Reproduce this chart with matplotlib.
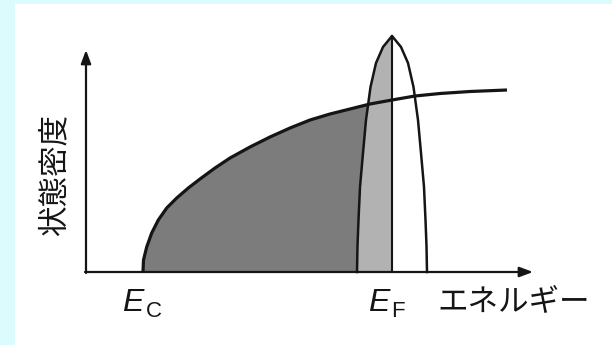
import numpy as np
import matplotlib
matplotlib.use("Agg")
import matplotlib.pyplot as plt
from matplotlib.patches import Rectangle

############################################
#                  DATA                    #
############################################

# energy / density of states in arbitrary units (band edge at 0)
E_c = 0.0
E_f = 2.49

dos_E = np.array([0.0, 0.005, 0.037, 0.087, 0.153, 0.237, 0.337, 0.453, 0.57, 0.72,
                  0.87, 1.07, 1.27, 1.47, 1.67, 1.87, 2.07, 2.27, 2.49, 2.72,
                  2.97, 3.27, 3.64])
dos_D = np.array([0.0, 0.12, 0.25, 0.39, 0.52, 0.64, 0.74, 0.84, 0.93, 1.04,
                  1.14, 1.25, 1.35, 1.44, 1.52, 1.58, 1.63, 1.68, 1.72, 1.76,
                  1.785, 1.805, 1.82])

# electron peak around E_F: height and half width
peak_h = np.array([0.0, 0.26, 0.52, 0.85, 1.19, 1.52, 1.85, 2.09, 2.25, 2.36])
peak_hw = np.array([0.35, 0.345, 0.335, 0.32, 0.29, 0.26, 0.215, 0.16, 0.09, 0.0])

x_axis_end = 3.90
y_axis_end = 2.22
y_axis_pos = -0.57

ylabel = "状態密度"
xlabel = "エネルギー"

############################################
#                PLOTTING                  #
############################################

ink = '#151515'
jp_font = ['Noto Sans CJK JP', 'DejaVu Sans']
lat_font = ['Liberation Sans', 'DejaVu Sans']

fig = plt.figure(figsize=(6.12, 3.45), dpi=100)
fig.patch.set_facecolor('#dcfbfd')
fig.patches.append(Rectangle((15/612, 0), 1 - 15/612, 1 - 4/345,
                             transform=fig.transFigure, facecolor='white',
                             edgecolor='none', zorder=-5))

ax = fig.add_axes([0, 0, 1, 1])
ax.set_facecolor('none')
ax.set_xlim(-1.43, 4.69)
ax.set_ylim(-0.73, 2.72)
ax.axis('off')

# filled states below E_F
inside = dos_E <= E_f
ax.fill_between(dos_E[inside], dos_D[inside], 0, color='#7c7c7c', lw=0, zorder=1)

left_E = E_f - peak_hw
right_E = E_f + peak_hw
ax.fill(np.append(left_E, E_f), np.append(peak_h, 0), color='#b2b2b2', lw=0, zorder=2)

# outlines
ax.plot(dos_E, dos_D, color=ink, lw=2.3, solid_capstyle='butt', zorder=3)
ax.plot(np.concatenate([left_E, right_E[::-1][1:]]),
        np.concatenate([peak_h, peak_h[::-1][1:]]),
        color=ink, lw=1.8, zorder=3)
ax.plot([E_f, E_f], [0, peak_h.max()], color=ink, lw=1.5, zorder=3)

# axes with arrows
arrow = dict(arrowstyle='-|>,head_length=0.8,head_width=0.3', color=ink, lw=1.6,
             shrinkA=0, shrinkB=0, mutation_scale=10)
ax.annotate('', xy=(x_axis_end, 0), xytext=(y_axis_pos - 0.01, 0), arrowprops=arrow, zorder=4)
ax.annotate('', xy=(y_axis_pos, y_axis_end), xytext=(y_axis_pos, -0.01), arrowprops=arrow, zorder=4)

# labels
ax.text(E_c - 0.21, -0.39, 'E', style='italic', fontsize=23, family=lat_font,
        color=ink, ha='left', va='baseline')
ax.text(E_c + 0.03, -0.45, 'C', fontsize=16, family=lat_font,
        color=ink, ha='left', va='baseline')
ax.text(E_f - 0.24, -0.39, 'E', style='italic', fontsize=23, family=lat_font,
        color=ink, ha='left', va='baseline')
ax.text(E_f - 0.01, -0.45, 'F', fontsize=16, family=lat_font,
        color=ink, ha='left', va='baseline')
ax.text(2.94, -0.30, xlabel, fontsize=22, family=jp_font, color=ink,
        ha='left', va='center')
ax.text(-0.88, 0.97, ylabel, fontsize=22, family=jp_font, color=ink,
        rotation=90, ha='center', va='center')

plt.savefig("out.png", dpi=100, facecolor=fig.get_facecolor())
